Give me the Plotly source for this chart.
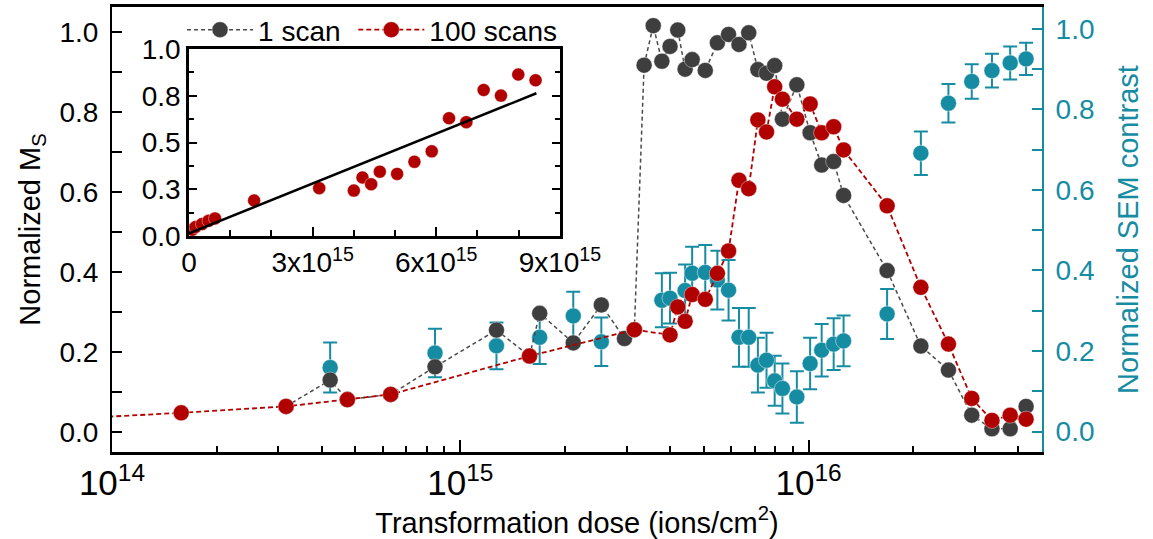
import plotly.graph_objects as go

# ---------------- data ----------------
# 100 scans (red) : dose in ions/cm^2, normalized Ms
red_dose = [7.9e13, 1.58e14, 3.16e14, 4.74e14, 6.31e14, 1.58e15, 3.16e15, 4.0e15, 4.21e15,
            4.42e15, 4.63e15, 5.05e15, 5.47e15, 5.89e15, 6.31e15, 6.73e15, 7.15e15, 7.57e15,
            7.99e15, 8.41e15, 9.25e15, 1.01e16, 1.09e16, 1.18e16, 1.26e16, 1.68e16, 2.1e16,
            2.52e16, 2.94e16, 3.36e16, 3.79e16, 4.21e16]
red_ms = [0.034, 0.048, 0.064, 0.081, 0.094, 0.190, 0.256, 0.243, 0.313, 0.277, 0.344, 0.332,
          0.397, 0.453, 0.630, 0.609, 0.781, 0.751, 0.864, 0.833, 0.783, 0.821, 0.749, 0.764,
          0.706, 0.566, 0.362, 0.220, 0.084, 0.029, 0.042, 0.032]

# 1 scan (dark grey)
black_dose = [3.16e14, 4.23e14, 4.74e14, 6.31e14, 8.46e14, 1.27e15, 1.58e15, 1.69e15, 2.11e15,
              2.54e15, 2.96e15, 3.16e15, 3.37e15, 3.58e15, 3.79e15, 4.0e15, 4.21e15, 4.42e15,
              4.63e15, 5.05e15, 5.47e15, 5.89e15, 6.31e15, 6.73e15, 7.15e15, 7.57e15, 7.99e15,
              8.41e15, 9.25e15, 1.01e16, 1.09e16, 1.18e16, 1.26e16, 1.68e16, 2.1e16, 2.52e16,
              2.94e16, 3.36e16, 3.79e16, 4.21e16]
black_ms = [0.064, 0.130, 0.081, 0.094, 0.163, 0.255, 0.190, 0.297, 0.223, 0.318, 0.234, 0.256,
            0.918, 1.017, 0.928, 0.965, 1.006, 0.908, 0.932, 0.905, 0.974, 0.995, 0.970, 0.999,
            0.907, 0.898, 0.917, 0.783, 0.869, 0.749, 0.668, 0.677, 0.592, 0.404, 0.215, 0.155,
            0.042, 0.008, 0.008, 0.064]

# SEM contrast (teal, right axis) with error bars
sem_dose = [4.23e14, 8.46e14, 1.27e15, 1.69e15, 2.11e15, 2.54e15, 3.79e15, 4.0e15, 4.42e15,
            4.63e15, 5.05e15, 5.47e15, 5.89e15, 6.31e15, 6.73e15, 7.15e15, 7.57e15, 7.99e15,
            8.41e15, 9.25e15, 1.01e16, 1.09e16, 1.18e16, 1.26e16, 1.68e16, 2.1e16, 2.52e16,
            2.94e16, 3.36e16, 3.79e16, 4.21e16]
sem_val = [0.159, 0.195, 0.213, 0.234, 0.287, 0.223, 0.326, 0.331, 0.350, 0.393, 0.395, 0.376,
           0.351, 0.234, 0.234, 0.165, 0.177, 0.126, 0.107, 0.086, 0.169, 0.202, 0.217, 0.225,
           0.292, 0.691, 0.815, 0.869, 0.896, 0.915, 0.925]
sem_err = [0.062, 0.060, 0.058, 0.066, 0.060, 0.060, 0.067, 0.063, 0.065, 0.066, 0.068, 0.073,
           0.075, 0.073, 0.073, 0.068, 0.068, 0.062, 0.062, 0.064, 0.064, 0.065, 0.064, 0.063,
           0.062, 0.054, 0.048, 0.043, 0.042, 0.041, 0.040]

# inset: linear fit of the 100-scan data (linear dose axis)
inset_max_dose = 9e15
fit_intercept = 0.014
fit_slope = 0.0889e-15
fit_dose_end = 8.43e15

inset_ticks_x = [0, 3e15, 6e15, 9e15]
inset_ticktext_x = ["0", "3x10<sup>15</sup>", "6x10<sup>15</sup>", "9x10<sup>15</sup>"]
inset_ticks_y = [0, 0.25, 0.5, 0.75, 1.0]
inset_ticktext_y = ["0.0", "0.3", "0.5", "0.8", "1.0"]

# ---------------- styling ----------------
TEAL = "#168CA3"
RED = "#B00000"
GREY = "#3E3E3E"
FONT = "Liberation Sans, Arial, sans-serif"
FS = 28      # tick labels / legend
FT = 29      # axis titles

inset_x = [d for d in red_dose if d <= inset_max_dose]
inset_y = [v for d, v in zip(red_dose, red_ms) if d <= inset_max_dose]
fit_x = [0.0, fit_dose_end]
fit_y = [fit_intercept + fit_slope * x for x in fit_x]

fig = go.Figure()

fig.add_trace(go.Scatter(
    x=sem_dose, y=sem_val, mode="markers", xaxis="x", yaxis="y", showlegend=False,
    marker=dict(size=16, color=TEAL, line=dict(color="rgba(255,255,255,0.45)", width=1)),
    error_y=dict(type="data", array=sem_err, color=TEAL, thickness=2, width=7),
))
fig.add_trace(go.Scatter(
    x=black_dose, y=black_ms, mode="lines+markers", name="1 scan\u00a0", xaxis="x", yaxis="y2",
    line=dict(color="#4a4a4a", width=1.5, dash="4px,3px"),
    marker=dict(size=16, color=GREY, line=dict(color="rgba(255,255,255,0.4)", width=1)),
))
fig.add_trace(go.Scatter(
    x=red_dose, y=red_ms, mode="lines+markers", name="100 scans", xaxis="x", yaxis="y2",
    line=dict(color=RED, width=1.8, dash="5px,3px"),
    marker=dict(size=16, color=RED, line=dict(color="rgba(255,255,255,0.4)", width=1)),
))
fig.add_trace(go.Scatter(
    x=inset_x, y=inset_y, mode="markers", xaxis="x2", yaxis="y3", showlegend=False,
    marker=dict(size=13, color=RED, line=dict(color="rgba(255,255,255,0.4)", width=1)),
))
fig.add_trace(go.Scatter(
    x=fit_x, y=fit_y, mode="lines", xaxis="x2", yaxis="y3", showlegend=False,
    line=dict(color="black", width=2.5),
))

tickfont = dict(family=FONT, size=FS, color="black")

fig.update_layout(
    width=1153, height=539,
    margin=dict(l=112, r=111, t=7, b=87, autoexpand=False),
    plot_bgcolor="white", paper_bgcolor="white",
    font=dict(family=FONT, size=FS, color="black"),
    xaxis=dict(
        type="log", range=[14, 16.67], dtick=1, exponentformat="power",
        showline=True, linecolor="black", linewidth=2.5, mirror=True,
        ticks="inside", ticklen=12, tickwidth=2, tickcolor="black",
        minor=dict(ticks="inside", ticklen=6, tickwidth=1.5, tickcolor="black", dtick="D1"),
        showgrid=False, zeroline=False, tickfont=tickfont, automargin=False,
        title=dict(text="Transformation dose (ions/cm<sup>2</sup>)", font=dict(size=FT), standoff=10),
    ),
    yaxis=dict(
        side="right", range=[-0.0507, 1.0539], tick0=0, dtick=0.2, tickformat=".1f",
        showline=True, linecolor=TEAL, linewidth=2, ticks="inside", ticklen=10, tickwidth=2,
        tickcolor=TEAL, minor=dict(ticks="inside", dtick=0.1, ticklen=10, tickwidth=2, tickcolor=TEAL),
        showgrid=False, zeroline=False, tickfont=dict(family=FONT, size=FS, color=TEAL),
        ticklabelstandoff=6, automargin=False,
        title=dict(text="Normalized SEM contrast", font=dict(size=FT, color=TEAL), standoff=24),
    ),
    yaxis2=dict(
        overlaying="y", side="left", anchor="x", range=[-0.0501, 1.0637], tick0=0, dtick=0.2,
        tickformat=".1f", showline=True, linecolor="black", linewidth=2, ticks="inside",
        ticklen=10, tickwidth=2, tickcolor="black",
        minor=dict(ticks="inside", dtick=0.1, ticklen=10, tickwidth=2, tickcolor="black"),
        showgrid=False, zeroline=False, tickfont=tickfont, ticklabelstandoff=6, automargin=False,
        title=dict(text="Normalized M<sub>S</sub>", font=dict(size=FT), standoff=10),
    ),
    xaxis2=dict(
        domain=[0.0828, 0.4816], anchor="y3", range=[0, 9e15],
        tickvals=inset_ticks_x, ticktext=inset_ticktext_x,
        showline=True, linecolor="black", linewidth=2.5, mirror=True,
        ticks="inside", ticklen=9, tickwidth=2, tickcolor="black",
        minor=dict(ticks="inside", dtick=1e15, ticklen=6, tickwidth=1.5, tickcolor="black"),
        showgrid=False, zeroline=False, tickfont=tickfont, automargin=False,
    ),
    yaxis3=dict(
        domain=[0.4854, 0.9055], anchor="x2", range=[0, 1],
        tickvals=inset_ticks_y, ticktext=inset_ticktext_y,
        showline=True, linecolor="black", linewidth=2.5, mirror="ticks",
        ticks="inside", ticklen=8, tickwidth=2, tickcolor="black",
        minor=dict(ticks="inside", dtick=0.125, ticklen=5, tickwidth=1.5, tickcolor="black"),
        showgrid=False, zeroline=False, tickfont=tickfont, automargin=False,
    ),
    legend=dict(
        orientation="h", x=0.0753, y=1 - 30 / 539, xref="paper", yref="container",
        xanchor="left", yanchor="middle",
        font=dict(family=FONT, size=FS), itemwidth=66,
        bgcolor="rgba(0,0,0,0)",
    ),
)

fig.write_html("out.html")
